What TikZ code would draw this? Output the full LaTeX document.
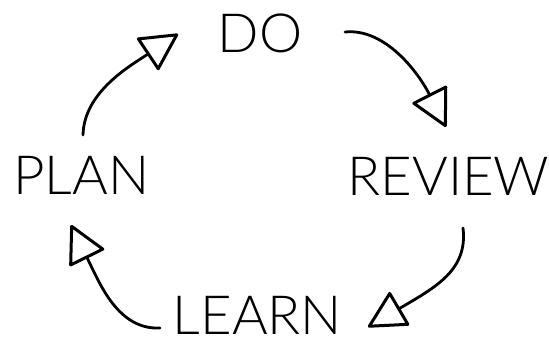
\documentclass[tikz,border=0pt]{standalone}
\usepackage{fontspec}
\setmainfont[FakeStretch=1.01]{Lato Light}
\usetikzlibrary{arrows.meta}
\tikzset{
  lbl/.style={inner sep=0pt, anchor=base, text depth=0pt, font=\fontsize{54}{60}\selectfont},
  cyc/.style={line width=2.8pt, line cap=round,
    -{Triangle[open, round, length=39pt, width=40pt, line width=3pt]}}
}
\begin{document}
\begin{tikzpicture}[x=1pt,y=-1pt]
\useasboundingbox (0,0) rectangle (549,342);
\node[lbl] (do) at (260,53) {DO};
\node[lbl] (plan) at (81.5,194) {PLAN};
\node[lbl] (review) at (448.5,195) {REVIEW};
\node[lbl] (learn) at (257.5,334) {LEARN};
% connector end points
\coordinate (a1) at (83,135);  \coordinate (b1) at (178,34);
\coordinate (a2) at (345,32);  \coordinate (b2) at (446,127);
\coordinate (a3) at (463,228); \coordinate (b3) at (368,327);
\coordinate (a4) at (160,328); \coordinate (b4) at (71,225);
\draw[cyc] (a1) .. controls (84,92) and (130,66) .. (b1);
\draw[cyc] (a2) .. controls (385,28) and (418,72) .. (b2);
\draw[cyc] (a3) .. controls (468,270) and (436,287) .. (b3);
\draw[cyc] (a4) .. controls (118,330) and (100,284) .. (b4);
\end{tikzpicture}
\end{document}
